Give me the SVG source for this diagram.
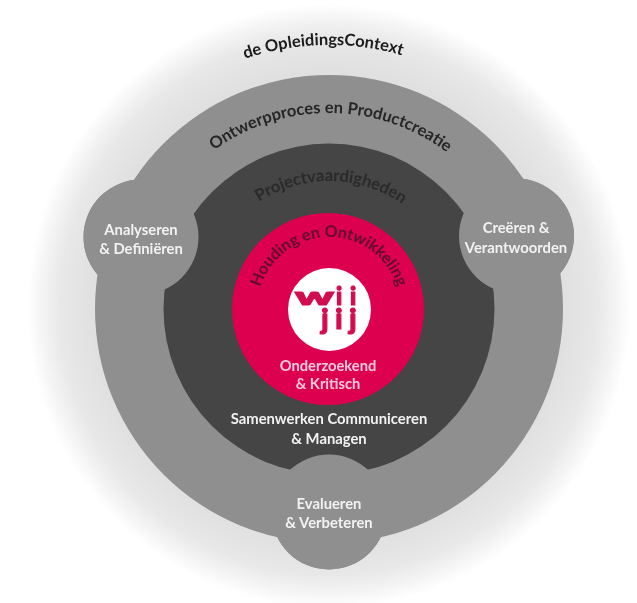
<svg xmlns="http://www.w3.org/2000/svg" width="637" height="603" viewBox="0 0 637 603">
<style>
text{font-family:"Lato","Open Sans","Liberation Sans",sans-serif;font-weight:700}
.w{fill:#f2f2f2;font-size:14.8px;text-anchor:middle}
.p{fill:#f6c9dc;font-size:14.7px;text-anchor:middle}
.a{text-anchor:middle}
.l{font-weight:900;fill:#d2104f;stroke:#d2104f;stroke-width:1.2px}
</style>
<defs>
<radialGradient id="glow" gradientUnits="userSpaceOnUse" cx="329" cy="306" r="302">
<stop offset="0.78" stop-color="#e0e0e0"/><stop offset="0.89" stop-color="#e8e8e8"/><stop offset="0.95" stop-color="#f4f4f4"/><stop offset="1" stop-color="#fff"/>
</radialGradient>
<filter id="soft" x="-5%" y="-5%" width="110%" height="110%"><feGaussianBlur stdDeviation="0.45"/></filter>
<path id="p1" d="M65 309A264 264 0 0 1 593 309"/>
<path id="p2" d="M133 309A196 196 0 0 1 525 309"/>
<path id="p3" d="M201 309A128 128 0 0 1 457 309"/>
<path id="p4" d="M257 309A72 72 0 0 1 401 309"/>
</defs>
<rect width="637" height="603" fill="#fff"/>
<circle cx="329" cy="306" r="302" fill="url(#glow)"/>
<g filter="url(#soft)">
<g id="node-opleidingscontext">
<text class="a" font-size="16.500" fill="#1a1a1a"><textPath href="#p1" startOffset="49.300%">de OpleidingsContext</textPath></text>
</g>
<g id="node-ontwerpproces" fill="#8f8f8f">
<circle cx="329" cy="309" r="234"/>
<circle cx="141" cy="237" r="57.500"/>
<circle cx="516.500" cy="236" r="57.500"/>
<circle cx="329" cy="512" r="57.500"/>
</g>
<g id="node-projectvaardigheden">
<circle cx="329" cy="309" r="165.500" fill="#444"/>
<circle cx="141" cy="237" r="57.500" fill="#8f8f8f"/>
<circle cx="516.500" cy="236" r="57.500" fill="#8f8f8f"/>
<circle cx="329" cy="512" r="57.500" fill="#8f8f8f"/>
<text class="a" font-size="16.500" fill="#2b2b2b"><textPath href="#p3" startOffset="50.500%">Projectvaardigheden</textPath></text>
</g>
<text class="a" font-size="16.500" fill="#262626"><textPath href="#p2" startOffset="50.300%">Ontwerpproces en Productcreatie</textPath></text>
<g id="node-analyseren"><text class="w" x="141" y="235">Analyseren</text><text class="w" x="141" y="254">&amp; Definiëren</text></g>
<g id="node-creeren"><text class="w" x="516" y="233">Creëren &amp;</text><text class="w" x="516" y="253">Verantwoorden</text></g>
<g id="node-evalueren"><text class="w" x="329" y="509">Evalueren</text><text class="w" x="329" y="528">&amp; Verbeteren</text></g>
<g id="node-samenwerken"><text class="w" x="329" y="424">Samenwerken Communiceren</text><text class="w" x="329" y="444">&amp; Managen</text></g>
<g id="node-houding">
<circle cx="328" cy="309" r="96" fill="#dc0050"/>
<text class="a" font-size="16" fill="#5f0a2c"><textPath href="#p4" startOffset="50%">Houding en Ontwikkeling</textPath></text>
<text class="p" x="328" y="371">Onderzoekend</text><text class="p" x="328" y="389">&amp; Kritisch</text>
</g>
<g id="node-wijjij">
<circle cx="329.500" cy="309.500" r="41.500" fill="#fff"/>
<text class="l" transform="translate(295,305) scale(2,1)" font-size="24">w</text>
<text class="l" x="339 353" y="305" text-anchor="middle" font-size="24">ii</text>
<text class="l" x="325 339 353" y="329" text-anchor="middle" font-size="28">jij</text>
</g>
</g>
</svg>
